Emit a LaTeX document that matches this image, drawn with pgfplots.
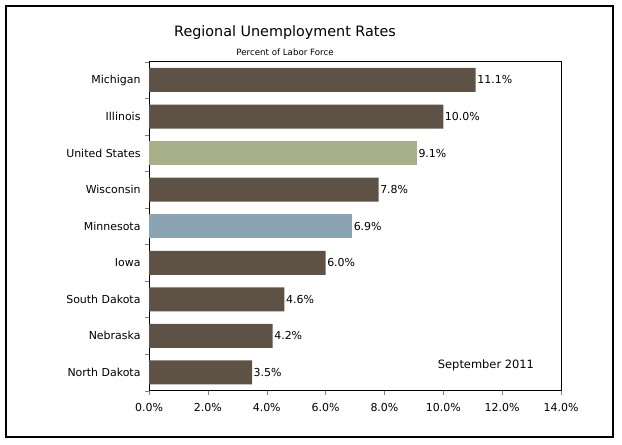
\documentclass[border=0pt]{standalone}
\usepackage{pgfplots}
\pgfplotsset{compat=1.18}
\usepackage{fontspec}
\setmainfont{DejaVu Sans}
\definecolor{brownbar}{HTML}{5E5246}
\definecolor{greenbar}{HTML}{A8B08A}
\definecolor{bluebar}{HTML}{8CA3B3}
\begin{document}
\begin{tikzpicture}[x=1bp,y=1bp]
\useasboundingbox (0,0) rectangle (622,445);
\draw[line width=1.6bp] (6,8) rectangle (613,439);
\node[font=\fontsize{14.4}{17}\selectfont] at (285,412) {Regional Unemployment Rates};
\node[font=\fontsize{8.7}{10}\selectfont] at (285,393) {Percent of Labor Force};
\begin{axis}[
  at={(149bp,54.3bp)}, anchor=south west,
  width=412bp, height=329bp, scale only axis,
  xmin=0, xmax=14, ymin=-0.5, ymax=8.5,
  xbar, bar width=24bp, bar shift=0pt,
  xtick={0,2,...,14},
  xticklabel={\pgfmathprintnumber[fixed,fixed zerofill,precision=1]{\tick}\%},
  ytick={-0.5,0.5,...,8.5},
  yticklabels={},
  extra y ticks={0,1,2,3,4,5,6,7,8},
  extra y tick labels={North Dakota,Nebraska,South Dakota,Iowa,Minnesota,Wisconsin,United States,Illinois,Michigan},
  extra y tick style={major tick length=0pt},
  xtick pos=bottom, ytick pos=left,
  tick align=outside, major tick length=4bp,
  tick label style={font=\fontsize{11}{13}\selectfont},
  xticklabel style={yshift=-5bp},
  yticklabel style={xshift=-5bp},
  /pgf/number format/assume math mode=true,
  axis line style={line width=0.8bp},
  nodes near coords={\pgfmathprintnumber[fixed,fixed zerofill,precision=1]{\pgfplotspointmeta}\%},
  nodes near coords align={horizontal},
  every node near coord/.append style={font=\fontsize{11}{13}\selectfont, black, inner sep=1.5bp},
]
\addplot[fill=brownbar, draw=none] coordinates {(3.5,0) (4.2,1) (4.6,2) (6.0,3) (7.8,5) (10.0,7) (11.1,8)};
\addplot[fill=bluebar, draw=none] coordinates {(6.9,4)};
\addplot[fill=greenbar, draw=none] coordinates {(9.1,6)};
\node[font=\fontsize{11.5}{13}\selectfont] at (axis cs:11.45,0.2) {September 2011};
\end{axis}
\end{tikzpicture}
\end{document}
